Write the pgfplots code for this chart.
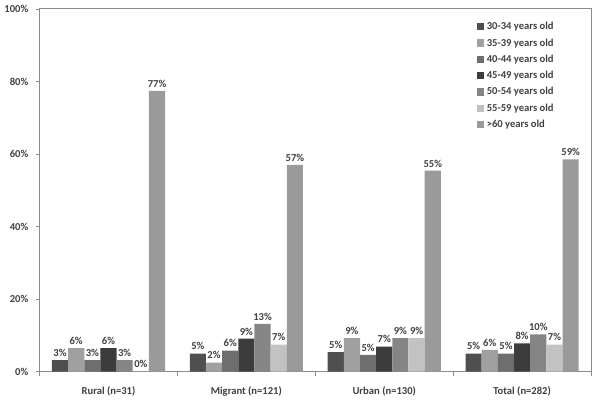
\documentclass[border=0pt]{standalone}
\usepackage{pgfplots}
\pgfplotsset{compat=1.18}
\usepackage{fontspec}
\setmainfont{Carlito}
\definecolor{cA}{HTML}{4F4F4F}
\definecolor{cB}{HTML}{A0A0A0}
\definecolor{cC}{HTML}{6E6E6E}
\definecolor{cD}{HTML}{3C3C3C}
\definecolor{cE}{HTML}{858585}
\definecolor{cF}{HTML}{C2C2C2}
\definecolor{cG}{HTML}{9A9A9A}
\definecolor{axgray}{HTML}{8C8C8C}
\begin{document}
\begin{tikzpicture}
\path (-27pt,-21.75pt) rectangle (423pt,280.5pt);
\begin{axis}[
  at={(0,0)}, anchor=south west,
  scale only axis,
  width=416.25pt, height=273.75pt,
  ybar=0pt, bar width=12.2pt,
  xmin=-0.5, xmax=3.5,
  ymin=0, ymax=100,
  ytick={0,20,40,60,80,100},
  yticklabels={0\%,20\%,40\%,60\%,80\%,100\%},
  xtick={0,1,2,3},
  xticklabels={Rural (n=31),Migrant (n=121),Urban (n=130),Total (n=282)},
  minor xtick={-0.5,0.5,1.5,2.5,3.5},
  major x tick style={draw=none},
  minor tick length=3pt,
  major tick length=3pt,
  tick align=outside,
  tick pos=left,
  axis line style={axgray, line width=0.8pt},
  tick style={axgray, line width=0.6pt},
  every tick label/.append style={font=\bfseries\fontsize{8}{9}\selectfont, text=black!75},
  xticklabel style={yshift=-5pt},
  yticklabel style={xshift=-2pt},
  nodes near coords={\pgfplotspointmeta},
  point meta=explicit symbolic,
  every node near coord/.append style={font=\bfseries\fontsize{8}{9}\selectfont, text=black!75, inner sep=1.5pt, yshift=1pt},
  legend style={at={(0.79,0.975)}, anchor=north west, draw=none, fill=none,
    font=\bfseries\fontsize{8}{9}\selectfont, text=black!75,
    row sep=1.2pt, inner sep=1pt},
  legend cell align=left,
  legend image code/.code={\fill[#1] (0pt,-2.5pt) rectangle (5.5pt,3pt);},
]
\addplot[draw=none, fill=cA] coordinates {(0,3.2)[3\%] (1,4.96)[5\%] (2,5.38)[5\%] (3,4.96)[5\%]};
\addplot[draw=none, fill=cB] coordinates {(0,6.5)[6\%] (1,2.48)[2\%] (2,9.23)[9\%] (3,6.03)[6\%]};
\addplot[draw=none, fill=cC] coordinates {(0,3.2)[3\%] (1,5.79)[6\%] (2,4.62)[5\%] (3,4.96)[5\%]};
\addplot[draw=none, fill=cD] coordinates {(0,6.5)[6\%] (1,9.09)[9\%] (2,6.92)[7\%] (3,7.80)[8\%]};
\addplot[draw=none, fill=cE] coordinates {(0,3.2)[3\%] (1,13.2)[13\%] (2,9.23)[9\%] (3,10.3)[10\%]};
\addplot[draw=none, fill=cF] coordinates {(0,0)[0\%] (1,7.44)[7\%] (2,9.23)[9\%] (3,7.45)[7\%]};
\addplot[draw=none, fill=cG] coordinates {(0,77.4)[77\%] (1,57.0)[57\%] (2,55.4)[55\%] (3,58.5)[59\%]};
\legend{30-34 years old,35-39 years old,40-44 years old,45-49 years old,50-54 years old,55-59 years old,>60 years old}
\end{axis}
\end{tikzpicture}
\end{document}
